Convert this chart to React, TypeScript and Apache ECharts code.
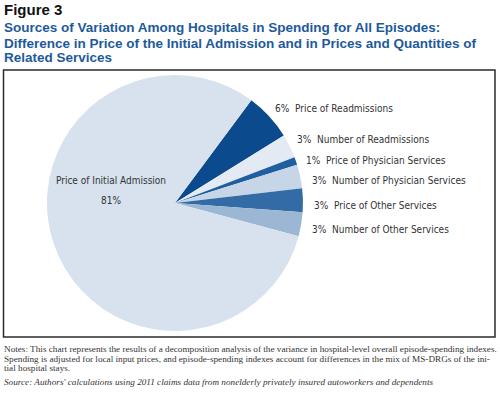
import React, { useEffect, useRef } from "react";
import * as echarts from "echarts";

const categories = [
  "Price of Readmissions",
  "Number of Readmissions",
  "Price of Physician Services",
  "Number of Physician Services",
  "Price of Other Services",
  "Number of Other Services",
  "Price of Initial Admission",
];
const shares = [6, 3, 1, 3, 3, 3, 81];
const colors = ["#0b4a8c", "#e3eaf3", "#1f5f9f", "#c7d6e6", "#326ba6", "#9bb7d4", "#d7e2ee"];
const labelSpots = [
  [275, 108],
  [297, 139],
  [306, 160],
  [312, 180],
  [314, 205],
  [312, 229],
  [111, 190],
];

const titleLines = [
  "Sources of Variation Among Hospitals in Spending for All Episodes:",
  "Difference in Price of the Initial Admission and in Prices and Quantities of",
  "Related Services",
];
const noteLines = [
  "Notes: This chart represents the results of a decomposition analysis of the variance in hospital-level overall episode-spending indexes.",
  "Spending is adjusted for local input prices, and episode-spending indexes account for differences in the mix of MS-DRGs of the ini-",
  "tial hospital stays.",
];
const sourceLine =
  "Source: Authors' calculations using 2011 claims data from nonelderly privately insured autoworkers and dependents";

export default function App() {
  const ref = useRef<HTMLDivElement>(null);
  useEffect(() => {
    const chart = echarts.init(ref.current!, null, { renderer: "svg" });
    const labelFont = "'Liberation Sans Narrow', 'DejaVu Sans Condensed', 'Liberation Sans', sans-serif";
    const titleFont = "'Liberation Sans', Arial, sans-serif";
    const serif = "'Liberation Serif', 'DejaVu Serif', serif";
    const titleY = [27, 43, 57];
    const noteY = [349, 358.5, 368];
    chart.setOption({
      animation: false,
      backgroundColor: "#ffffff",
      graphic: [
        {
          type: "text",
          left: 4,
          top: 2,
          style: { text: "Figure 3", font: `bold 15px ${titleFont}`, fill: "#111" },
        },
        ...titleLines.map((t, i) => ({
          type: "text",
          x: 4,
          y: titleY[i],
          style: {
            text: t,
            font: `bold 13.5px ${titleFont}`,
            fill: "#1d5a9c",
            verticalAlign: "middle",
          },
        })),
        {
          type: "rect",
          shape: { x: 3.5, y: 70, width: 491.5, height: 267 },
          style: { fill: "none", stroke: "#2b2b2b", lineWidth: 1.5 },
          z: 10,
        },
        ...noteLines.map((t, i) => ({
          type: "text",
          x: 4,
          y: noteY[i],
          style: { text: t, font: `9.2px ${serif}`, fill: "#333", verticalAlign: "middle" },
        })),
        {
          type: "text",
          x: 4,
          y: 382,
          style: {
            text: sourceLine,
            font: `italic 9.2px ${serif}`,
            fill: "#333",
            verticalAlign: "middle",
          },
        },
      ],
      series: [
        {
          type: "pie",
          center: [175, 203],
          radius: [0, 128],
          startAngle: 53.4,
          clockwise: true,
          avoidLabelOverlap: false,
          itemStyle: { borderWidth: 0 },
          emphasis: { disabled: true },
          labelLine: { show: false },
          label: {
            show: true,
            position: "inside",
            fontFamily: labelFont,
            fontSize: 10,
            color: "#333",
            formatter: (p: any) =>
              p.dataIndex === categories.length - 1
                ? `${p.name}\n${p.value}%`
                : `${p.value}%  ${p.name}`,
            lineHeight: 20,
          },
          labelLayout: (p: any) => {
            const s = labelSpots[p.dataIndex];
            const last = p.dataIndex === categories.length - 1;
            return {
              x: s[0],
              y: s[1],
              align: last ? "center" : "left",
              verticalAlign: "middle",
            };
          },
          data: categories.map((c, i) => ({
            name: c,
            value: shares[i],
            itemStyle: { color: colors[i] },
          })),
        },
      ],
    });
    return () => chart.dispose();
  }, []);
  return (
    <div
      ref={ref}
      style={{ position: "fixed", left: 0, top: 0, width: 500, height: 399 }}
    />
  );
}
